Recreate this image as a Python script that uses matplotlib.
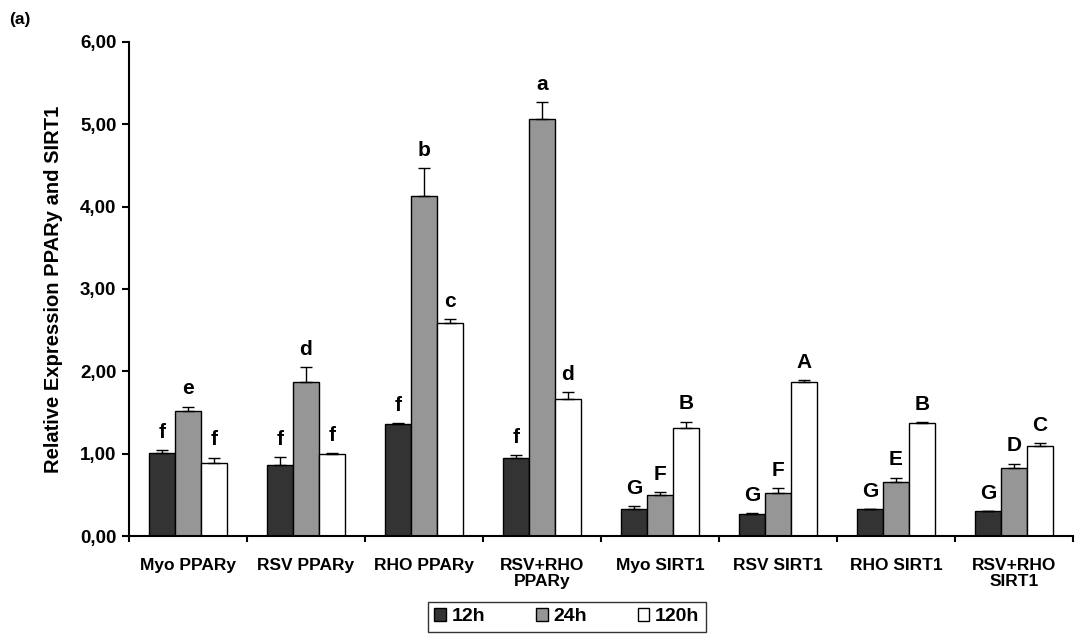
import matplotlib.pyplot as plt
import numpy as np

plt.rcParams['font.family'] = ['Liberation Sans', 'DejaVu Sans']

groups = ["Myo PPARy", "RSV PPARy", "RHO PPARy", "RSV+RHO\nPPARy",
          "Myo SIRT1", "RSV SIRT1", "RHO SIRT1", "RSV+RHO\nSIRT1"]
series = ["12h", "24h", "120h"]

# mean values per series (one per group)
vals_12h = [1.01, 0.86, 1.36, 0.95, 0.33, 0.27, 0.33, 0.30]
vals_24h = [1.52, 1.87, 4.13, 5.06, 0.50, 0.52, 0.66, 0.83]
vals_120h = [0.89, 1.00, 2.59, 1.67, 1.31, 1.87, 1.37, 1.09]

# error bars (upper only)
err_12h = [0.03, 0.10, 0.01, 0.03, 0.03, 0.01, 0.00, 0.00]
err_24h = [0.05, 0.18, 0.34, 0.21, 0.03, 0.06, 0.05, 0.05]
err_120h = [0.06, 0.01, 0.04, 0.08, 0.08, 0.02, 0.01, 0.04]

# significance letters
let_12h = ["f", "f", "f", "f", "G", "G", "G", "G"]
let_24h = ["e", "d", "b", "a", "F", "F", "E", "D"]
let_120h = ["f", "f", "c", "d", "B", "A", "B", "C"]

colors = ["#333333", "#969696", "#ffffff"]

fig = plt.figure(figsize=(10.82, 6.36), dpi=100)
ax = fig.add_axes([0.1192, 0.1572, 0.8725, 0.7768])

x = np.arange(len(groups)) + 0.5
width = 0.22
all_vals = [vals_12h, vals_24h, vals_120h]
all_errs = [err_12h, err_24h, err_120h]
all_lets = [let_12h, let_24h, let_120h]

handles = []
for i in range(3):
    pos = x + (i - 1) * width
    bars = ax.bar(pos, all_vals[i], width, color=colors[i], edgecolor="black",
                  linewidth=1.0, label=series[i], zorder=2)
    handles.append(bars)
    ax.errorbar(pos, all_vals[i], yerr=[np.zeros(len(groups)), all_errs[i]],
                fmt="none", ecolor="black", elinewidth=1.0, capsize=4,
                capthick=1.0, zorder=3)
    for p, v, e, t in zip(pos, all_vals[i], all_errs[i], all_lets[i]):
        ax.annotate(t, (p, v + e), xytext=(0, 6), textcoords="offset points",
                    ha="center", va="bottom", fontsize=15, fontweight="bold")

ax.set_xlim(0, len(groups))
ax.set_ylim(0, 6)
ax.set_yticks(np.arange(0, 7, 1))
ax.set_yticklabels([("%.2f" % v).replace(".", ",") for v in np.arange(0, 7, 1)],
                   fontsize=13.5, fontweight="bold")

ax.set_xticks(np.arange(0, len(groups) + 1))
ax.set_xticklabels([])
ax.set_xticks(x, minor=True)
ax.set_xticklabels(groups, minor=True, fontsize=12.5, fontweight="bold",
                   linespacing=1.05)
ax.tick_params(axis="x", which="minor", length=0, pad=16)
ax.tick_params(axis="x", which="major", direction="out", length=4, width=1.5)
ax.tick_params(axis="y", direction="out", length=5, width=1.5, pad=4)

ax.spines["top"].set_visible(False)
ax.spines["right"].set_visible(False)
ax.spines["left"].set_linewidth(1.5)
ax.spines["bottom"].set_linewidth(1.5)

ax.set_ylabel("Relative Expression PPARy and SIRT1", fontsize=14.5,
              fontweight="bold", labelpad=12)

leg = fig.legend(handles=handles, labels=series, loc="center",
                 bbox_to_anchor=(0.524, 0.030), ncol=3, frameon=True,
                 fancybox=False, edgecolor="black", handlelength=0.6,
                 handleheight=0.6, handletextpad=0.3, columnspacing=2.6,
                 prop={"size": 14, "weight": "bold"}, borderpad=0.35)
leg.get_frame().set_linewidth(1.0)

fig.text(0.008, 0.962, "(a)", fontsize=12.5, fontweight="bold")

fig.savefig("out.png", dpi=100)
